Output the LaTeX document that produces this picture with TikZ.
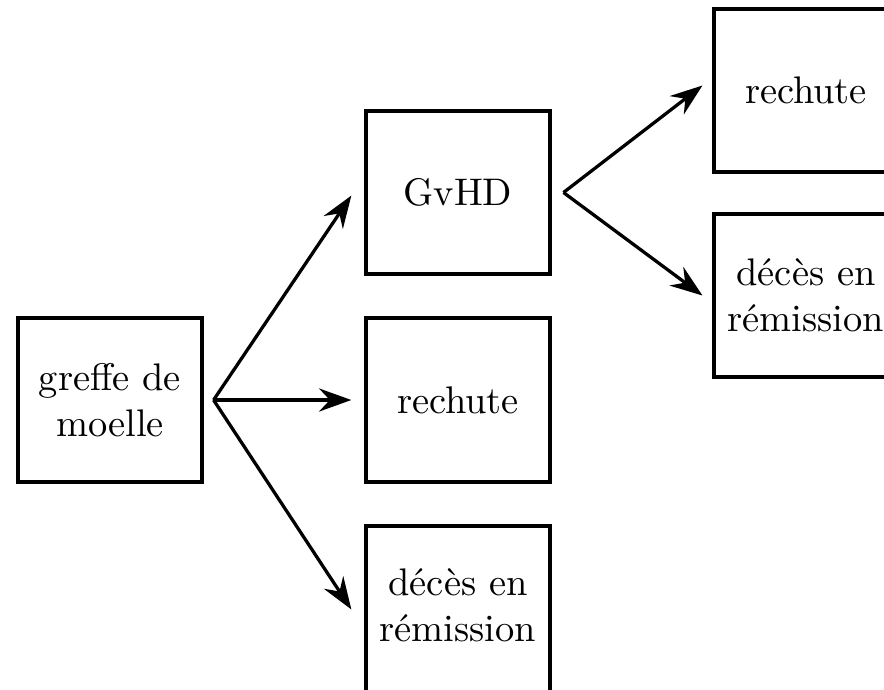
\documentclass[tikz,border=0pt]{standalone}
\usetikzlibrary{arrows.meta}
\begin{document}
\begin{tikzpicture}[x=0.26pt,y=-0.26pt,
  box/.style={draw, line width=1.05pt, rectangle, align=center,
    minimum width=47.6pt, minimum height=42.6pt, inner sep=0pt,
    font=\fontsize{10}{12}\selectfont},
  arr/.style={line width=0.85pt, -{Stealth[length=8.4pt,width=6pt,inset=2.8pt]}}]
\useasboundingbox (0,0) rectangle (884,689);

% boxes
\node[box] (g)  at (110,400) {greffe de\\moelle};
\node[box] (gv) at (458,192.5) {GvHD};
\node[box] (r1) at (458,400) {rechute};
\node[box,minimum height=44pt] (d1) at (458,611)
  {décès en\\rémission\rule[-3pt]{0pt}{0pt}};
\node[box] (r2) at (806,90.5) {rechute};
\node[box] (d2) at (806,295.5) {décès en\\rémission};

% branching points
\coordinate (gs)  at ([xshift=2.6pt]g.east);
\coordinate (gvs) at ([xshift=3.1pt]gv.east);

% connectors
\draw[arr] (gs) -- ([xshift=-3.4pt,yshift=-0.8pt]gv.west);
\draw[arr] (gs) -- ([xshift=-3.4pt]r1.west);
\draw[arr] (gs) -- ([xshift=-3.4pt,yshift=0.4pt]d1.west);
\draw[arr] (gvs) -- ([xshift=-2.6pt,yshift=1.3pt]r2.west);
\draw[arr] (gvs) -- ([xshift=-2.6pt]d2.west);
\end{tikzpicture}
\end{document}
